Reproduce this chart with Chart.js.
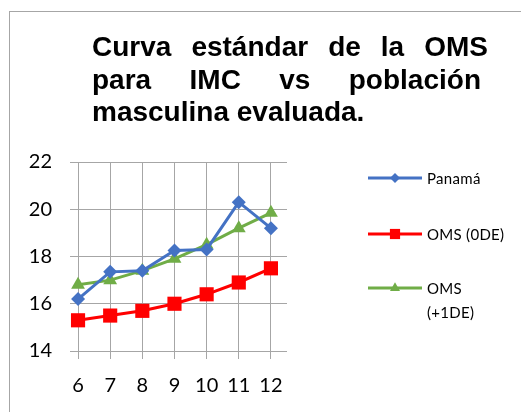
<!DOCTYPE html>
<html>
<head>
<meta charset="utf-8">
<script src="https://cdn.jsdelivr.net/npm/chart.js@4.4.1/dist/chart.umd.min.js"></script>
<style>
  html, body { margin: 0; padding: 0; background: #fff; }
  #wrap { position: relative; width: 521px; height: 412px; overflow: hidden; }
  #frame { position: absolute; left: 9px; top: 11px; width: 600px; height: 500px; border: 1px solid #a6a6a6; }
  #title {
    position: absolute; left: 92px; top: 31px;
    font: bold 28px "Liberation Sans", Arial, sans-serif; line-height: 32.5px; color: #000;
  }
  #title .j { display: flex; justify-content: space-between; white-space: nowrap; }
  canvas { position: absolute; left: 0; top: 0; }
</style>
</head>
<body>
<div id="wrap">
  <div id="frame"></div>
  <canvas id="c" width="521" height="412"></canvas>
  <div id="title">
    <div class="j" style="width:396px"><span>Curva</span><span>estándar</span><span>de</span><span>la</span><span>OMS</span></div>
    <div class="j" style="width:389px"><span>para</span><span>IMC</span><span>vs</span><span>población</span></div>
    <div>masculina evaluada.</div>
  </div>
</div>
<script>
'use strict';

// ── data ──
const ages = [6, 7, 8, 9, 10, 11, 12];
const panama = [16.2, 17.35, 17.4, 18.25, 18.3, 20.3, 19.2];
const oms0 = [15.3, 15.5, 15.7, 16.0, 16.4, 16.9, 17.5];
const oms1 = [16.8, 17.0, 17.4, 17.9, 18.5, 19.2, 19.85];
const seriesNames = ['Panamá', 'OMS (0DE)', 'OMS (+1DE)'];
const yTicks = [14, 16, 18, 20, 22];

const FONT = 'Lato, "Open Sans", sans-serif';
const pts = arr => arr.map((v, i) => ({ x: ages[i], y: v }));

// right-hand legend, drawn with the chart's own point helper
const sideLegend = {
  id: 'sideLegend',
  afterDraw(chart) {
    const ctx = chart.ctx;
    const rows = [178, 234, 288];
    ctx.save();
    ctx.font = '15px ' + FONT;
    ctx.letterSpacing = '0.3px';
    ctx.textBaseline = 'middle';
    chart.data.datasets.forEach((ds, i) => {
      const y = rows[i];
      ctx.strokeStyle = ds.borderColor;
      ctx.lineWidth = 3;
      ctx.beginPath(); ctx.moveTo(368, y); ctx.lineTo(422, y); ctx.stroke();
      ctx.fillStyle = ds.pointBackgroundColor;
      Chart.helpers.drawPoint(ctx, { pointStyle: ds.pointStyle, radius: ds.pointRadius * 0.72, borderWidth: 0, rotation: 0 }, 395, y);
      ctx.fillStyle = '#000';
      let lines = [ds.label];
      if (ctx.measureText(ds.label).width > 83) lines = ds.label.split(' ');
      lines.forEach((t, k) => ctx.fillText(t, 427, y + 1 + k * 24));
    });
    ctx.restore();
  }
};

const mk = (label, data, color, style, r) => ({
  label, data: pts(data), borderColor: color, backgroundColor: color,
  pointBackgroundColor: color, pointBorderColor: color, pointBorderWidth: 0,
  pointStyle: style, pointRadius: r, pointHoverRadius: r, borderWidth: 3, tension: 0
});

new Chart(document.getElementById('c'), {
  type: 'line',
  data: {
    datasets: [
      mk(seriesNames[0], panama, '#4472C4', 'rectRot', 7),
      mk(seriesNames[1], oms0, '#FF0000', 'rect', 10),
      mk(seriesNames[2], oms1, '#70AD47', 'triangle', 8)
    ]
  },
  options: {
    responsive: false,
    animation: false,
    layout: { padding: { left: 0, right: 234, top: 162, bottom: 0 } },
    plugins: { legend: { display: false }, title: { display: false }, tooltip: { enabled: false } },
    scales: {
      x: {
        type: 'linear', min: 5.75, max: 12.5,
        afterBuildTicks: s => { s.ticks = ages.map(v => ({ value: v })); },
        afterFit: s => { s.height = 61; },
        border: { display: false },
        grid: { color: '#a6a6a6', lineWidth: 1, tickLength: 8 },
        ticks: { color: '#000', font: { family: FONT, size: 20 }, padding: 15, maxRotation: 0, autoSkip: false }
      },
      y: {
        min: 14, max: 22,
        afterBuildTicks: s => { s.ticks = yTicks.map(v => ({ value: v })); },
        afterFit: s => { s.width = 70; },
        border: { display: false },
        grid: { color: '#a6a6a6', lineWidth: 1, drawTicks: false },
        ticks: { color: '#000', font: { family: FONT, size: 20 }, padding: 18 }
      }
    }
  },
  plugins: [sideLegend]
});
</script>
</body>
</html>
